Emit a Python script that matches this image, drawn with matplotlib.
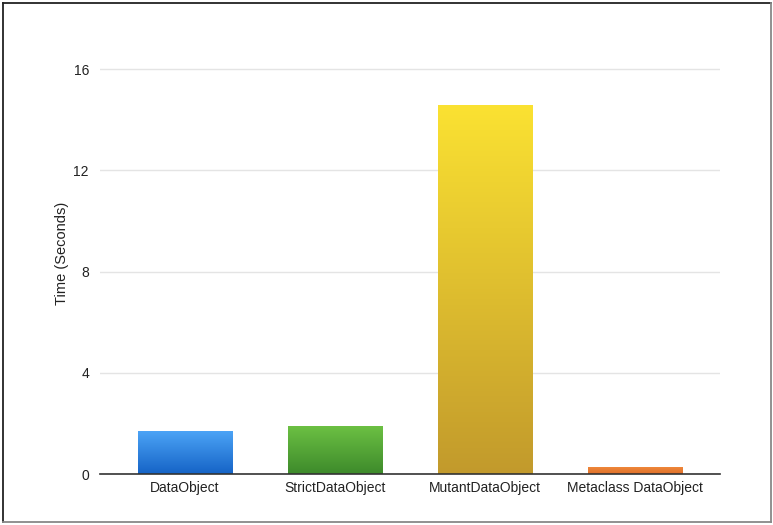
import matplotlib
matplotlib.use("Agg")
import matplotlib.pyplot as plt
import numpy as np
from matplotlib.colors import LinearSegmentedColormap
from matplotlib.lines import Line2D

plt.rcParams['font.family'] = ['Liberation Sans', 'DejaVu Sans']

categories = ['DataObject', 'StrictDataObject', 'MutantDataObject', 'Metaclass DataObject']
times = [1.70, 1.88, 14.58, 0.29]
yticks = [0, 4, 8, 12, 16]
# top colour, bottom colour
bar_colors = [('#4da5f7', '#1563c6'),
              ('#6cc043', '#3d8a2b'),
              ('#fbe232', '#c29a2c'),
              ('#f08a3c', '#e0702a')]

fig = plt.figure(figsize=(7.73, 5.25), dpi=100)
ax = fig.add_axes([100 / 773, 1 - 474 / 525, 620 / 773, (474 - 33.6) / 525])

x = np.arange(len(categories))
width = 0.63
bars = ax.bar(x, times, width=width, color='none', edgecolor='none', zorder=3)

# vertical gradient inside each bar
grad = np.linspace(1, 0, 256).reshape(-1, 1)
for b, (top, bottom) in zip(bars, bar_colors):
    cmap = LinearSegmentedColormap.from_list('g', [bottom, top])
    x0, y0 = b.get_x(), b.get_y()
    im = ax.imshow(grad, cmap=cmap, aspect='auto', zorder=3,
                   extent=[x0, x0 + b.get_width(), y0, y0 + b.get_height()],
                   vmin=0, vmax=1)
    im.set_clip_path(b)

ax.set_xlim(-0.567, 3.567)
ax.set_ylim(0, 17.4)
ax.set_yticks(yticks)
ax.set_yticklabels([str(t) for t in yticks])
ax.set_xticks(x)
ax.set_xticklabels(categories)
ax.grid(axis='y', color='#e4e4e4', linewidth=1, zorder=0)
ax.set_axisbelow(True)
for s in ['top', 'right', 'left']:
    ax.spines[s].set_visible(False)
ax.spines['bottom'].set_color('#333333')
ax.spines['bottom'].set_linewidth(1.2)
ax.spines['bottom'].set_zorder(4)
ax.tick_params(axis='both', length=0, labelsize=10, colors='#222222')
ax.tick_params(axis='y', pad=8)
ax.tick_params(axis='x', pad=5)
ax.set_ylabel('Time (Seconds)', fontsize=10.5, color='#222222', labelpad=3)

# frame around the figure
fig.add_artist(Line2D([3 / 773, 3 / 773], [3 / 525, 1 - 3 / 525], color='#222222', lw=1.3))
fig.add_artist(Line2D([3 / 773, 771 / 773], [1 - 3 / 525, 1 - 3 / 525], color='#222222', lw=1.3))
fig.add_artist(Line2D([771 / 773, 771 / 773], [3 / 525, 1 - 3 / 525], color='#888888', lw=1.3))
fig.add_artist(Line2D([3 / 773, 771 / 773], [3 / 525, 3 / 525], color='#888888', lw=1.3))

fig.savefig('out.png', dpi=100)
